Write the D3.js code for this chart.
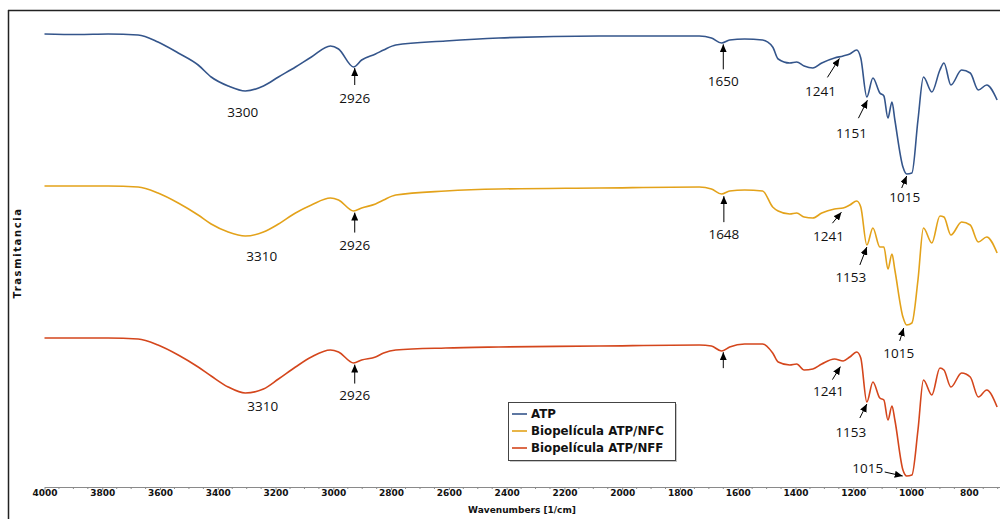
<!DOCTYPE html>
<html>
<head>
<meta charset="utf-8">
<script src="https://cdn.jsdelivr.net/npm/d3@7"></script>
<style>
  html, body { margin: 0; padding: 0; background: #fff; }
  svg { display: block; }
</style>
</head>
<body>
<svg id="chart" width="1000" height="519"></svg>
<script>
// ---------- DATA ----------
const wavenumbers = [4000, 3884, 3780, 3676, 3607, 3537, 3468, 3423, 3364, 3305, 3242, 3190, 3131, 3076, 3010, 2982, 2930, 2902, 2854, 2826, 2784, 2611, 2427, 2080, 1733, 1691, 1656, 1628, 1576, 1514, 1479, 1460, 1420, 1396, 1370, 1340, 1309, 1265, 1235, 1212, 1188, 1174, 1153, 1132, 1108, 1094, 1080, 1066, 1056, 1028, 1015, 997, 976, 957, 928, 900, 886, 862, 825, 795, 767, 738, 702];

const atp = [93.2, 93.1, 93.2, 93.0, 91.6, 89.4, 87.0, 84.6, 82.8, 81.8, 82.8, 84.6, 86.6, 88.6, 90.8, 90.2, 86.6, 88.0, 89.2, 90.0, 91.0, 91.8, 92.4, 92.8, 92.8, 92.4, 91.4, 92.0, 92.2, 92.0, 90.6, 88.2, 87.4, 87.6, 86.8, 86.4, 87.4, 88.4, 88.8, 89.2, 90.0, 88.4, 80.6, 84.4, 81.4, 80.8, 76.4, 79.6, 76.0, 66.6, 65.2, 65.4, 76.0, 84.6, 81.6, 86.0, 87.4, 83.0, 86.0, 85.4, 82.0, 83.0, 80.0];

const atpNfc = [62.8, 62.8, 62.8, 62.6, 61.4, 59.4, 57.0, 55.2, 53.6, 52.8, 53.6, 55.2, 57.4, 59.0, 60.4, 60.0, 57.8, 58.4, 59.2, 60.0, 61.0, 61.8, 62.2, 62.4, 62.6, 62.2, 61.2, 61.8, 62.0, 61.8, 58.6, 57.8, 57.2, 57.4, 56.6, 56.4, 57.4, 58.2, 58.4, 59.0, 59.8, 58.6, 51.0, 54.4, 50.6, 50.6, 46.2, 49.2, 46.0, 36.6, 35.0, 35.4, 44.0, 54.4, 51.4, 56.8, 56.6, 53.0, 55.6, 55.0, 51.6, 52.6, 49.4];

const atpNff = [32.4, 32.4, 32.4, 32.2, 31.0, 29.0, 26.6, 24.8, 22.6, 21.4, 22.2, 24.2, 26.6, 28.6, 30.0, 29.6, 27.4, 28.0, 28.6, 29.4, 30.0, 30.4, 30.6, 30.8, 31.0, 30.8, 29.8, 30.6, 31.2, 31.2, 29.4, 27.6, 27.0, 27.2, 26.0, 26.2, 27.2, 28.2, 27.8, 28.6, 29.6, 28.4, 19.6, 23.6, 20.4, 20.0, 16.0, 18.8, 16.0, 6.0, 4.8, 5.0, 14.0, 24.0, 21.0, 26.4, 26.0, 22.6, 25.4, 24.6, 20.6, 22.0, 18.6];

const seriesNames = ["ATP", "Biopelícula ATP/NFC", "Biopelícula ATP/NFF"];
const seriesColors = ["#34558b", "#e3a21a", "#d4461c"];

const xTickValues = [4000, 3800, 3600, 3400, 3200, 3000, 2800, 2600, 2400, 2200, 2000, 1800, 1600, 1400, 1200, 1000, 800];
const xTickLabels = ["4000", "3800", "3600", "3400", "3200", "3000", "2800", "2600", "2400", "2200", "2000", "1800", "1600", "1400", "1200", "1000", "800"];
const xAxisTitle = "Wavenumbers [1/cm]";
const yAxisTitle = "Trasmitancia";

// peak annotations
const annSeries = [0, 0, 0, 0, 0, 0, 1, 1, 1, 1, 1, 1, 2, 2, 2, 2, 2, 2];
const annWn = [3300, 2926, 1650, 1241, 1151, 1015, 3310, 2926, 1648, 1241, 1153, 1015, 3310, 2926, 1650, 1241, 1153, 1015];
const annLabels = ["3300", "2926", "1650", "1241", "1151", "1015", "3310", "2926", "1648", "1241", "1153", "1015", "3310", "2926", "", "1241", "1153", "1015"];

// ---------- LAYOUT ----------
// [tipDx, tipDy, tailDx, tailDy, labelDx, labelDy] relative to the curve point; null tip = no arrow
const annLayout = [
  [null, null, null, null, -4, 22],
  [0, 2, 0, 19, 0, 32],
  [0, 2, 0, 27, 0, 39],
  [-2, 2, -14, 21, -21, 35],
  [0, 5, -9, 23, -16, 38],
  [0, 2, -5, 14, -2, 23],
  [null, null, null, null, 18, 20],
  [0, 2, 0, 22, 0, 35],
  [0, 3, 0, 29, 0, 41],
  [0, 4, -9, 15, -13, 28],
  [0, 2, -7, 20, -16, 32],
  [-3, 3, -7, 16, -8, 28],
  [null, null, null, null, 19, 14],
  [0, 2, 0, 21, 0, 33],
  [0, 2, 0, 18, 0, 32],
  [-1, 6, -9, 19, -13, 31],
  [0, 2, -7, 16, -16, 30],
  [-4, 0, -22, -4, -39, -8]
];

const svg = d3.select("#chart");

const x = d3.scaleLinear().domain([4000, 692]).range([44.5, 1000]);
const y = d3.scaleLinear().domain([0, 100]).range([500, 0]);
const axisY = 487;

// frame
svg.append("line").attr("x1", 8).attr("x2", 1000).attr("y1", 10.5).attr("y2", 10.5)
  .attr("stroke", "#222").attr("stroke-width", 1.5);
svg.append("line").attr("x1", 8.5).attr("x2", 8.5).attr("y1", 10).attr("y2", 519)
  .attr("stroke", "#222").attr("stroke-width", 1.5);

// x axis
const axisG = svg.append("g").attr("transform", `translate(0,${axisY})`);
axisG.call(d3.axisBottom(x).tickValues(xTickValues).tickFormat((d, i) => xTickLabels[i]).tickSize(3).tickSizeOuter(0));
axisG.select(".domain").attr("stroke", "#8a8a8a").attr("stroke-width", 1);
axisG.selectAll(".tick line").attr("stroke", "#8a8a8a");
axisG.selectAll(".tick text")
  .attr("font-family", "'DejaVu Sans', sans-serif").attr("font-weight", "bold")
  .attr("font-size", "9px").attr("fill", "#111").attr("dy", "0.6em").attr("y", 4);
const minor = d3.range(4000, 690, -50).filter(v => v % 200 !== 0);
axisG.selectAll(".minor").data(minor).enter().append("line")
  .attr("x1", d => x(d)).attr("x2", d => x(d)).attr("y1", 0).attr("y2", 2)
  .attr("stroke", "#8a8a8a").attr("stroke-width", 1);

svg.append("text").attr("x", 522).attr("y", 513).attr("text-anchor", "middle")
  .attr("font-family", "'DejaVu Sans', sans-serif").attr("font-weight", "bold").attr("font-size", "9px")
  .attr("fill", "#111").text(xAxisTitle);

svg.append("text").attr("transform", "translate(21,253) rotate(-90)").attr("text-anchor", "middle")
  .attr("font-family", "'DejaVu Sans', sans-serif").attr("font-weight", "bold").attr("font-size", "10px")
  .attr("letter-spacing", "1.6px").attr("fill", "#111").text(yAxisTitle);

// series
const seriesValues = [atp, atpNfc, atpNff];
const line = d3.line().x(d => x(d[0])).y(d => y(d[1])).curve(d3.curveMonotoneX);
seriesValues.forEach((vals, s) => {
  const pts = wavenumbers.map((w, i) => [w, vals[i]]);
  svg.append("path").datum(pts).attr("d", line).attr("fill", "none")
    .attr("stroke", seriesColors[s]).attr("stroke-width", 1.6).attr("stroke-linejoin", "round");
});

// annotations
const defs = svg.append("defs");
defs.append("marker").attr("id", "arrow").attr("viewBox", "0 0 8 7").attr("refX", 8).attr("refY", 3.5)
  .attr("markerWidth", 8).attr("markerHeight", 7).attr("markerUnits", "userSpaceOnUse").attr("orient", "auto")
  .append("path").attr("d", "M0,0 L8,3.5 L0,7 z").attr("fill", "#000");

function valueAt(vals, w) {
  for (let i = 0; i < wavenumbers.length - 1; i++) {
    const a = wavenumbers[i], b = wavenumbers[i + 1];
    if (w <= a && w >= b) {
      const t = (a - w) / (a - b);
      return vals[i] + t * (vals[i + 1] - vals[i]);
    }
  }
  return vals[vals.length - 1];
}

annWn.forEach((w, k) => {
  const s = annSeries[k];
  const px = x(w), py = y(valueAt(seriesValues[s], w));
  const L = annLayout[k];
  if (L[0] !== null) {
    svg.append("line").attr("x1", px + L[2]).attr("y1", py + L[3]).attr("x2", px + L[0]).attr("y2", py + L[1])
      .attr("stroke", "#000").attr("stroke-width", 1).attr("marker-end", "url(#arrow)");
  }
  if (annLabels[k]) {
    svg.append("text").attr("x", px + L[4]).attr("y", py + L[5]).attr("dy", "0.36em").attr("text-anchor", "middle")
      .attr("font-family", "'Open Sans', sans-serif").attr("font-size", "13.5px").attr("fill", "#111").text(annLabels[k]);
  }
});

// legend
const lg = svg.append("g");
lg.append("rect").attr("x", 510).attr("y", 404).attr("width", 167).attr("height", 58).attr("fill", "#c8c8c8");
lg.append("rect").attr("x", 508.5).attr("y", 402.5).attr("width", 167).attr("height", 58).attr("fill", "#fff")
  .attr("stroke", "#444").attr("stroke-width", 1);
seriesNames.forEach((name, i) => {
  const yy = 414 + i * 17;
  lg.append("line").attr("x1", 512).attr("x2", 527).attr("y1", yy).attr("y2", yy)
    .attr("stroke", seriesColors[i]).attr("stroke-width", 1.6);
  lg.append("text").attr("x", 531).attr("y", yy).attr("dy", "0.36em")
    .attr("font-family", "'DejaVu Sans', sans-serif").attr("font-weight", "bold").attr("font-size", "11.8px")
    .attr("fill", "#111").text(name);
});
</script>
</body>
</html>
